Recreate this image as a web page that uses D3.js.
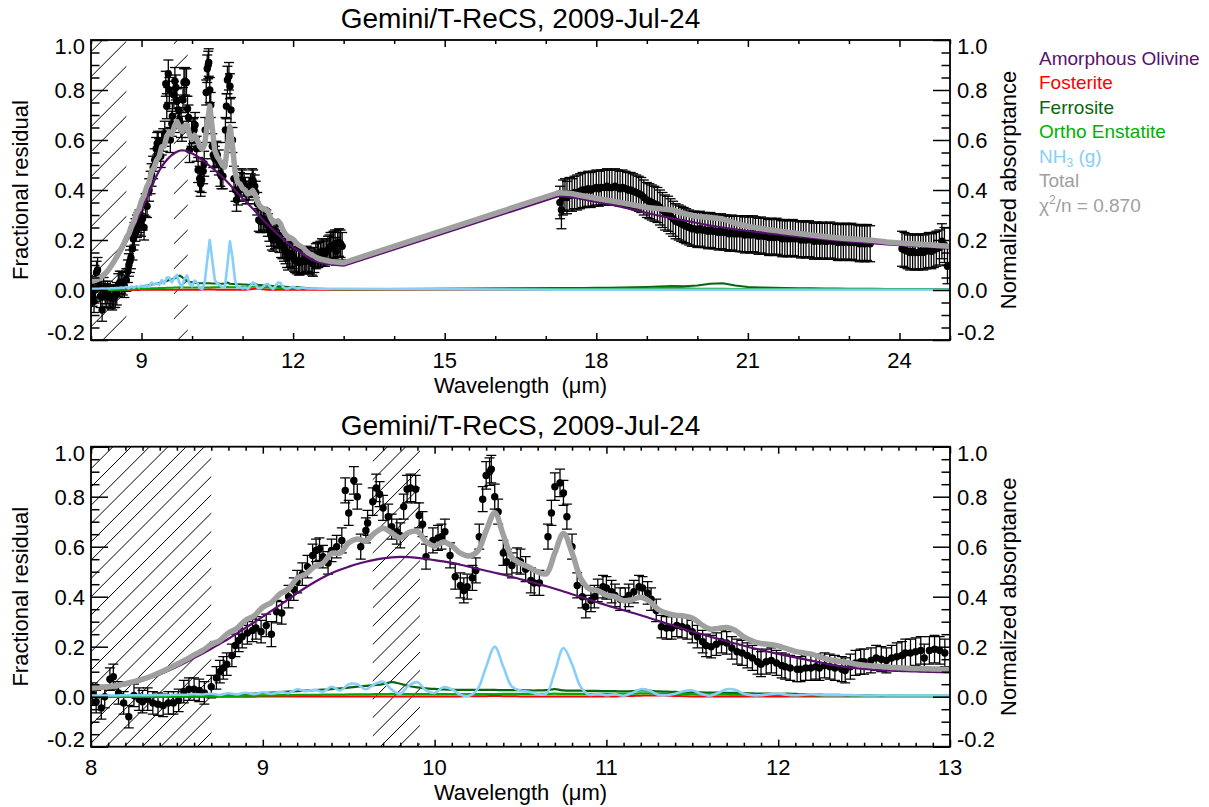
<!DOCTYPE html>
<html>
<head>
<meta charset="utf-8">
<script src="https://cdn.jsdelivr.net/npm/d3@7"></script>
<style>
  body { margin: 0; background: #fff; }
  text { font-family: "Liberation Sans", Arial, Helvetica, sans-serif; white-space: pre; }
</style>
</head>
<body>
<div id="chart"></div>
<script>
// measured spectrum, 8-13 um : [wavelength, fractional residual, error]
const specShort = [
  [8.01, 0.01, 0.045], [8.03, -0.02, 0.045], [8.06, -0.045, 0.045], [8.08, 0.00, 0.045], [8.11, 0.07, 0.045],
  [8.13, 0.08, 0.05], [8.16, 0.015, 0.045], [8.19, -0.025, 0.045], [8.22, -0.08, 0.045], [8.25, 0.005, 0.045],
  [8.28, -0.01, 0.045], [8.30, -0.02, 0.045], [8.33, -0.01, 0.045], [8.36, -0.025, 0.045], [8.39, -0.03, 0.045],
  [8.42, -0.035, 0.045], [8.45, -0.025, 0.045], [8.48, -0.025, 0.045], [8.51, -0.015, 0.045], [8.54, 0.02, 0.045],
  [8.57, 0.03, 0.045], [8.60, 0.03, 0.045], [8.63, 0.025, 0.045], [8.66, 0.015, 0.045], [8.70, 0.04, 0.045],
  [8.73, 0.075, 0.045], [8.75, 0.10, 0.045], [8.77, 0.115, 0.045], [8.79, 0.13, 0.045], [8.82, 0.165, 0.045],
  [8.84, 0.205, 0.045], [8.86, 0.225, 0.045], [8.88, 0.24, 0.045], [8.91, 0.255, 0.045], [8.94, 0.265, 0.045],
  [8.96, 0.275, 0.045], [8.99, 0.26, 0.045], [9.02, 0.285, 0.045], [9.05, 0.25, 0.05], [9.08, 0.34, 0.045],
  [9.11, 0.335, 0.045], [9.15, 0.40, 0.045], [9.18, 0.43, 0.045], [9.20, 0.46, 0.045], [9.23, 0.49, 0.045],
  [9.26, 0.52, 0.045], [9.29, 0.565, 0.045], [9.31, 0.585, 0.045], [9.33, 0.59, 0.045], [9.35, 0.56, 0.045],
  [9.38, 0.535, 0.045], [9.40, 0.585, 0.045], [9.43, 0.60, 0.045], [9.46, 0.625, 0.05], [9.48, 0.825, 0.05],
  [9.50, 0.735, 0.05], [9.53, 0.865, 0.055], [9.55, 0.80, 0.05], [9.57, 0.60, 0.05], [9.60, 0.665, 0.05],
  [9.61, 0.695, 0.05], [9.64, 0.78, 0.055], [9.66, 0.835, 0.055], [9.68, 0.81, 0.05], [9.70, 0.755, 0.05],
  [9.73, 0.72, 0.05], [9.75, 0.68, 0.05], [9.78, 0.66, 0.05], [9.80, 0.645, 0.05], [9.82, 0.76, 0.05],
  [9.84, 0.83, 0.055], [9.86, 0.835, 0.055], [9.89, 0.83, 0.055], [9.91, 0.725, 0.05], [9.93, 0.69, 0.05],
  [9.95, 0.56, 0.05], [9.99, 0.625, 0.05], [10.02, 0.635, 0.05], [10.04, 0.64, 0.05], [10.06, 0.66, 0.05],
  [10.09, 0.565, 0.05], [10.12, 0.48, 0.05], [10.15, 0.445, 0.05], [10.17, 0.425, 0.05], [10.19, 0.44, 0.05],
  [10.22, 0.475, 0.05], [10.24, 0.505, 0.05], [10.26, 0.64, 0.05], [10.28, 0.79, 0.05], [10.30, 0.885, 0.055],
  [10.32, 0.90, 0.055], [10.33, 0.91, 0.055], [10.35, 0.80, 0.05], [10.37, 0.74, 0.05], [10.40, 0.575, 0.05],
  [10.42, 0.54, 0.05], [10.45, 0.525, 0.05], [10.48, 0.545, 0.05], [10.50, 0.54, 0.05], [10.53, 0.51, 0.05],
  [10.56, 0.465, 0.05], [10.58, 0.455, 0.05], [10.61, 0.455, 0.05], [10.66, 0.64, 0.05], [10.68, 0.735, 0.05],
  [10.70, 0.84, 0.055], [10.73, 0.855, 0.055], [10.75, 0.815, 0.05], [10.77, 0.72, 0.05], [10.80, 0.60, 0.05],
  [10.83, 0.445, 0.05], [10.86, 0.40, 0.045], [10.88, 0.36, 0.045], [10.91, 0.385, 0.045], [10.93, 0.40, 0.045],
  [10.95, 0.425, 0.045], [10.98, 0.44, 0.045], [11.00, 0.435, 0.045], [11.03, 0.42, 0.045], [11.05, 0.405, 0.045],
  [11.08, 0.39, 0.045], [11.11, 0.39, 0.045], [11.13, 0.405, 0.045], [11.16, 0.42, 0.045], [11.19, 0.44, 0.045],
  [11.21, 0.435, 0.045], [11.24, 0.415, 0.045], [11.26, 0.39, 0.045], [11.29, 0.345, 0.045], [11.32, 0.28, 0.045],
  [11.35, 0.275, 0.045], [11.38, 0.275, 0.045], [11.41, 0.285, 0.045], [11.44, 0.28, 0.045], [11.47, 0.275, 0.045],
  [11.50, 0.26, 0.045], [11.53, 0.24, 0.045], [11.56, 0.22, 0.045], [11.58, 0.205, 0.045], [11.61, 0.20, 0.045],
  [11.64, 0.21, 0.045], [11.67, 0.22, 0.045], [11.70, 0.215, 0.045], [11.73, 0.195, 0.045], [11.76, 0.18, 0.05],
  [11.79, 0.175, 0.05], [11.82, 0.165, 0.05], [11.85, 0.155, 0.05], [11.88, 0.14, 0.05], [11.90, 0.13, 0.05],
  [11.93, 0.14, 0.05], [11.96, 0.145, 0.05], [11.99, 0.135, 0.05], [12.02, 0.125, 0.05], [12.04, 0.12, 0.05],
  [12.07, 0.115, 0.05], [12.11, 0.11, 0.05], [12.13, 0.11, 0.05], [12.16, 0.115, 0.05], [12.19, 0.115, 0.05],
  [12.22, 0.12, 0.05], [12.24, 0.115, 0.05], [12.27, 0.125, 0.05], [12.30, 0.12, 0.05], [12.33, 0.115, 0.05],
  [12.37, 0.11, 0.05], [12.39, 0.105, 0.05], [12.42, 0.12, 0.05], [12.45, 0.135, 0.05], [12.48, 0.14, 0.05],
  [12.50, 0.14, 0.05], [12.54, 0.145, 0.05], [12.57, 0.155, 0.05], [12.60, 0.15, 0.05], [12.63, 0.145, 0.05],
  [12.66, 0.155, 0.05], [12.69, 0.16, 0.055], [12.72, 0.165, 0.055], [12.74, 0.175, 0.055], [12.77, 0.175, 0.055],
  [12.80, 0.18, 0.055], [12.83, 0.185, 0.055], [12.85, 0.155, 0.055], [12.88, 0.185, 0.055], [12.91, 0.19, 0.055],
  [12.94, 0.185, 0.055], [12.97, 0.175, 0.055]
];

// measured spectrum, 17-23.5 um
const specLong = [
  [17.28, 0.35, 0.065], [17.31, 0.32, 0.075], [17.34, 0.37, 0.07], [17.38, 0.38, 0.065], [17.42, 0.37, 0.065],
  [17.47, 0.385, 0.065], [17.52, 0.38, 0.065], [17.57, 0.39, 0.065], [17.62, 0.39, 0.07], [17.68, 0.395, 0.07],
  [17.73, 0.40, 0.07], [17.78, 0.40, 0.07], [17.84, 0.405, 0.07], [17.89, 0.40, 0.07], [17.94, 0.405, 0.07],
  [18.00, 0.41, 0.07], [18.05, 0.405, 0.07], [18.10, 0.41, 0.07], [18.16, 0.41, 0.07], [18.21, 0.415, 0.07],
  [18.26, 0.41, 0.07], [18.31, 0.41, 0.07], [18.37, 0.415, 0.07], [18.42, 0.41, 0.07], [18.47, 0.405, 0.07],
  [18.52, 0.41, 0.07], [18.58, 0.405, 0.07], [18.63, 0.40, 0.07], [18.68, 0.40, 0.07], [18.73, 0.395, 0.07],
  [18.79, 0.39, 0.07], [18.84, 0.385, 0.07], [18.89, 0.38, 0.07], [18.94, 0.37, 0.07], [19.00, 0.36, 0.07],
  [19.05, 0.355, 0.07], [19.10, 0.35, 0.07], [19.15, 0.345, 0.07], [19.21, 0.34, 0.07], [19.26, 0.33, 0.07],
  [19.31, 0.32, 0.07], [19.36, 0.31, 0.07], [19.42, 0.305, 0.07], [19.47, 0.295, 0.07], [19.52, 0.285, 0.07],
  [19.57, 0.275, 0.07], [19.63, 0.27, 0.07], [19.68, 0.265, 0.07], [19.73, 0.26, 0.07], [19.78, 0.255, 0.07],
  [19.84, 0.25, 0.07], [19.89, 0.245, 0.07], [19.94, 0.245, 0.07], [20.00, 0.24, 0.07], [20.05, 0.245, 0.07],
  [20.10, 0.24, 0.07], [20.15, 0.24, 0.07], [20.21, 0.235, 0.07], [20.26, 0.24, 0.07], [20.31, 0.235, 0.07],
  [20.36, 0.235, 0.07], [20.42, 0.23, 0.07], [20.47, 0.235, 0.07], [20.52, 0.23, 0.07], [20.57, 0.23, 0.07],
  [20.63, 0.225, 0.07], [20.68, 0.23, 0.07], [20.73, 0.225, 0.07], [20.78, 0.225, 0.07], [20.84, 0.225, 0.072],
  [20.89, 0.225, 0.072], [20.94, 0.22, 0.072], [21.00, 0.225, 0.072], [21.05, 0.22, 0.072], [21.10, 0.225, 0.072],
  [21.15, 0.22, 0.072], [21.21, 0.215, 0.072], [21.26, 0.22, 0.072], [21.31, 0.215, 0.072], [21.36, 0.215, 0.072],
  [21.42, 0.21, 0.072], [21.47, 0.215, 0.072], [21.52, 0.21, 0.072], [21.57, 0.215, 0.072], [21.63, 0.21, 0.072],
  [21.68, 0.205, 0.072], [21.73, 0.21, 0.072], [21.78, 0.205, 0.072], [21.84, 0.205, 0.072], [21.89, 0.21, 0.072],
  [21.94, 0.205, 0.072], [22.00, 0.205, 0.072], [22.05, 0.20, 0.072], [22.10, 0.205, 0.072], [22.15, 0.20, 0.072],
  [22.21, 0.205, 0.072], [22.26, 0.20, 0.072], [22.31, 0.195, 0.072], [22.36, 0.20, 0.072], [22.42, 0.195, 0.072],
  [22.47, 0.20, 0.072], [22.52, 0.195, 0.072], [22.57, 0.195, 0.072], [22.63, 0.20, 0.072], [22.68, 0.195, 0.072],
  [22.73, 0.195, 0.072], [22.78, 0.19, 0.072], [22.84, 0.195, 0.072], [22.89, 0.19, 0.072], [22.94, 0.195, 0.072],
  [23.00, 0.19, 0.072], [23.05, 0.195, 0.072], [23.10, 0.19, 0.072], [23.15, 0.19, 0.072], [23.21, 0.185, 0.072],
  [23.26, 0.19, 0.072], [23.31, 0.185, 0.072], [23.36, 0.19, 0.072], [23.42, 0.185, 0.072]
];

// measured spectrum, 24-25 um
const specFar = [
  [24.05, 0.165, 0.07], [24.10, 0.16, 0.07], [24.16, 0.155, 0.07], [24.21, 0.15, 0.07], [24.26, 0.155, 0.07],
  [24.31, 0.15, 0.07], [24.37, 0.15, 0.07], [24.42, 0.155, 0.07], [24.47, 0.15, 0.07], [24.52, 0.155, 0.07],
  [24.58, 0.16, 0.07], [24.63, 0.155, 0.07], [24.68, 0.16, 0.07], [24.73, 0.165, 0.07], [24.79, 0.17, 0.07],
  [24.84, 0.195, 0.07], [24.89, 0.18, 0.07], [24.95, 0.095, 0.07]
];

// model components on a 0.05 um grid from 8.00 to 13.00
const gridShort = d3.range(0, 101).map(i => +(8 + i * 0.05).toFixed(2));
const olivineShort = [
  0.030, 0.032, 0.035, 0.040, 0.046, 0.054, 0.064, 0.076, 0.089, 0.104,
  0.120, 0.137, 0.155, 0.173, 0.192, 0.212, 0.232, 0.254, 0.276, 0.298,
  0.320, 0.343, 0.366, 0.390, 0.414, 0.437, 0.458, 0.477, 0.494, 0.508,
  0.520, 0.531, 0.540, 0.547, 0.553, 0.557, 0.559, 0.558, 0.555, 0.551,
  0.546, 0.541, 0.535, 0.528, 0.520, 0.512, 0.504, 0.496, 0.488, 0.479,
  0.470, 0.461, 0.452, 0.442, 0.432, 0.421, 0.410, 0.399, 0.388, 0.377,
  0.366, 0.356, 0.346, 0.336, 0.326, 0.315, 0.304, 0.293, 0.282, 0.271,
  0.261, 0.251, 0.241, 0.232, 0.222, 0.213, 0.204, 0.195, 0.187, 0.179,
  0.171, 0.164, 0.157, 0.150, 0.143, 0.136, 0.129, 0.123, 0.118, 0.114,
  0.111, 0.108, 0.106, 0.104, 0.103, 0.102, 0.101, 0.100, 0.099, 0.098,
  0.097
];
const fosteriteShort = [
  0, 0, 0, 0, 0, 0, 0, 0, 0, 0,
  0, 0, 0, 0, 0, 0, 0, 0, 0, 0,
  0.001, 0.001, 0.001, 0.001, 0.001, 0.001, 0.001, 0.001, 0.001, 0.001,
  0.001, 0.001, 0.001, 0.001, 0.001, 0.001, 0.001, 0.001, 0.001, 0.001,
  0.001, 0.001, 0.001, 0.001, 0.002, 0.002, 0.002, 0.003, 0.002, 0.002,
  0.001, 0.001, 0.001, 0.001, 0.001, 0.001, 0.001, 0.001, 0.001, 0.001,
  0.001, 0.001, 0.002, 0.003, 0.004, 0.005, 0.005, 0.004, 0.003, 0.002,
  0.001, 0.001, 0.001, 0.001, 0.001, 0.001, 0.001, 0.001, 0.001, 0.001,
  0.001, 0.001, 0.001, 0.001, 0.001, 0.001, 0.001, 0.001, 0.001, 0.001,
  0.001, 0.001, 0.001, 0.001, 0.001, 0.001, 0.001, 0.001, 0.001, 0.001,
  0.001
];
const ferrositeShort = [
  0, 0, 0, 0, 0, 0, 0, 0, 0.001, 0.001,
  0.001, 0.001, 0.001, 0.002, 0.003, 0.004, 0.006, 0.008, 0.010, 0.012,
  0.014, 0.016, 0.018, 0.020, 0.022, 0.024, 0.026, 0.028, 0.030, 0.033,
  0.036, 0.040, 0.043, 0.046, 0.050, 0.058, 0.052, 0.043, 0.037, 0.033,
  0.031, 0.029, 0.028, 0.027, 0.027, 0.027, 0.027, 0.027, 0.026, 0.026,
  0.026, 0.025, 0.025, 0.026, 0.030, 0.025, 0.024, 0.024, 0.023, 0.023,
  0.022, 0.022, 0.021, 0.022, 0.025, 0.024, 0.021, 0.020, 0.019, 0.018,
  0.018, 0.017, 0.016, 0.016, 0.015, 0.015, 0.014, 0.013, 0.012, 0.012,
  0.011, 0.012, 0.011, 0.010, 0.009, 0.008, 0.007, 0.007, 0.006, 0.006,
  0.005, 0.005, 0.004, 0.004, 0.004, 0.003, 0.003, 0.003, 0.003, 0.003,
  0.003
];
const enstatiteShort = [
  0, 0, 0, 0, 0, 0, 0, 0, 0, 0,
  0.001, 0.001, 0.001, 0.001, 0.002, 0.002, 0.003, 0.003, 0.004, 0.004,
  0.005, 0.005, 0.006, 0.006, 0.007, 0.007, 0.007, 0.008, 0.008, 0.008,
  0.009, 0.009, 0.009, 0.010, 0.010, 0.011, 0.011, 0.010, 0.010, 0.010,
  0.010, 0.010, 0.010, 0.010, 0.010, 0.010, 0.010, 0.010, 0.011, 0.011,
  0.011, 0.011, 0.011, 0.011, 0.012, 0.011, 0.011, 0.011, 0.011, 0.011,
  0.011, 0.011, 0.011, 0.012, 0.013, 0.013, 0.012, 0.011, 0.010, 0.010,
  0.010, 0.009, 0.009, 0.009, 0.009, 0.008, 0.008, 0.008, 0.007, 0.007,
  0.007, 0.007, 0.006, 0.006, 0.006, 0.005, 0.005, 0.005, 0.005, 0.004,
  0.004, 0.004, 0.004, 0.004, 0.003, 0.003, 0.003, 0.003, 0.003, 0.003,
  0.003
];
const nh3Short = [
  0.005, 0.005, 0.005, 0.005, 0.006, 0.006, 0.006, 0.006, 0.007, 0.007,
  0.008, 0.008, 0.010, 0.009, 0.012, 0.007, 0.014, 0.009, 0.016, 0.010,
  0.018, 0.012, 0.020, 0.014, 0.030, 0.022, 0.028, 0.020, 0.040, 0.025,
  0.050, 0.050, 0.030, 0.050, 0.060, 0.028, 0.012, 0.045, 0.058, 0.025,
  0.015, 0.038, 0.030, 0.008, 0.004, 0.030, 0.120, 0.200, 0.120, 0.040,
  0.025, 0.020, 0.010, 0.012, 0.100, 0.195, 0.130, 0.040, 0.008, 0.012,
  0.006, 0.010, 0.004, 0.015, 0.030, 0.025, 0.008, 0.006, 0.012, 0.022,
  0.025, 0.012, 0.004, 0.015, 0.030, 0.028, 0.012, 0.006, 0.006, 0.010,
  0.013, 0.008, 0.006, 0.008, 0.010, 0.007, 0.006, 0.006, 0.007, 0.006,
  0.005, 0.005, 0.006, 0.005, 0.005, 0.005, 0.005, 0.005, 0.005, 0.005,
  0.005
];

// model components on a 0.25 um grid from 17.25 to 25.00
const gridLong = d3.range(0, 32).map(i => 17.25 + i * 0.25);
const olivineLong = [0.375, 0.372, 0.362, 0.352, 0.343, 0.332, 0.320, 0.308, 0.297, 0.287, 0.278, 0.268, 0.258, 0.250, 0.243, 0.236,
  0.230, 0.224, 0.218, 0.213, 0.208, 0.203, 0.198, 0.194, 0.190, 0.186, 0.182, 0.179, 0.176, 0.173, 0.170, 0.167];
const fosteriteLong = [0.001, 0.001, 0.001, 0.001, 0.001, 0.001, 0.002, 0.003, 0.005, 0.006, 0.004, 0.002, 0.001, 0.001, 0.001, 0.001,
  0.001, 0.001, 0.001, 0.001, 0.001, 0.001, 0.001, 0.002, 0.003, 0.003, 0.002, 0.001, 0.001, 0.001, 0.001, 0.001];
const ferrositeLong = [0.008, 0.008, 0.008, 0.009, 0.009, 0.010, 0.011, 0.012, 0.014, 0.016, 0.015, 0.018, 0.025, 0.027, 0.018, 0.012,
  0.010, 0.009, 0.008, 0.007, 0.007, 0.006, 0.006, 0.005, 0.005, 0.005, 0.004, 0.004, 0.004, 0.004, 0.003, 0.003];
const enstatiteLong = [0.004, 0.004, 0.004, 0.004, 0.004, 0.005, 0.005, 0.006, 0.008, 0.010, 0.007, 0.005, 0.005, 0.005, 0.004, 0.004,
  0.004, 0.004, 0.004, 0.004, 0.003, 0.003, 0.003, 0.003, 0.003, 0.003, 0.003, 0.003, 0.003, 0.003, 0.003, 0.003];
const nh3Long = [0.001, 0.001, 0.001, 0.001, 0.001, 0.001, 0.001, 0.001, 0.001, 0.001, 0.001, 0.001, 0.001, 0.001, 0.001, 0.001,
  0.001, 0.001, 0.001, 0.001, 0.001, 0.001, 0.001, 0.001, 0.001, 0.001, 0.001, 0.001, 0.001, 0.001, 0.001, 0.001];

// wavelength ranges masked out (telluric)
const maskRanges = [[8.0, 8.70], [9.64, 9.915]];

const legendItems = [
  { label: "Amorphous Olivine", color: "#5a106e" },
  { label: "Fosterite", color: "#ff0000" },
  { label: "Ferrosite", color: "#0a6410" },
  { label: "Ortho Enstatite", color: "#00b000" },
  { label: "NH3 (g)", color: "#87cefa" },
  { label: "Total", color: "#a0a0a0" },
  { label: "chi2", color: "#a0a0a0" }
];
const chi2 = "0.870";
const titleText = "Gemini/T-ReCS, 2009-Jul-24";

// build component series as [wavelength, value] pairs
function pairs(grid, vals) { return grid.map((w, i) => [w, vals[i]]); }
function totalOf(grid, parts) {
  return grid.map((w, i) => [w, d3.sum(parts, p => p[i])]);
}
const compsShort = [olivineShort, fosteriteShort, ferrositeShort, enstatiteShort, nh3Short];
const compsLong = [olivineLong, fosteriteLong, ferrositeLong, enstatiteLong, nh3Long];
const totalShort = totalOf(gridShort, compsShort);
const totalLong = totalOf(gridLong, compsLong);

const W = 1209, H = 807;
const PL = 91, PR = 950, PH = 300;

const svg = d3.select("#chart").append("svg")
  .attr("width", W).attr("height", H)
  .style("background", "#fff");

function drawPanel(cfg) {
  const top = cfg.top, bot = top + PH;
  const x = d3.scaleLinear().domain(cfg.xDomain).range([PL, PR]);
  const y = d3.scaleLinear().domain([-0.2, 1.0]).range([bot, top]);
  const g = svg.append("g");

  g.append("clipPath").attr("id", "clip" + cfg.id)
    .append("rect").attr("x", PL).attr("y", top).attr("width", PR - PL).attr("height", PH);
  const plot = g.append("g").attr("clip-path", "url(#clip" + cfg.id + ")");

  // hatched masks
  maskRanges.forEach((r, j) => {
    const x0 = x(r[0]), x1 = x(r[1]);
    const cid = "hclip" + cfg.id + j;
    g.append("clipPath").attr("id", cid)
      .append("rect").attr("x", x0).attr("y", top).attr("width", x1 - x0).attr("height", PH);
    const hg = plot.append("g").attr("clip-path", "url(#" + cid + ")");
    const kStart = cfg.hatchPhase - Math.ceil((cfg.hatchPhase - (x0 + top)) / cfg.hatch) * cfg.hatch;
    const ks = d3.range(kStart, x1 + bot + cfg.hatch, cfg.hatch);
    hg.selectAll("line").data(ks).join("line")
      .attr("x1", x0 - 2).attr("y1", k => k - x0 + 2)
      .attr("x2", x1 + 2).attr("y2", k => k - x1 - 2)
      .attr("stroke", "#000").attr("stroke-width", 1);
  });

  // data with error bars
  const data = cfg.data;
  const eb = plot.append("g").attr("stroke", "#000").attr("stroke-width", 1.3);
  eb.selectAll("line.v").data(data).join("line").attr("class", "v")
    .attr("x1", d => x(d[0])).attr("x2", d => x(d[0]))
    .attr("y1", d => y(d[1] - d[2])).attr("y2", d => y(d[1] + d[2]));
  eb.selectAll("line.t").data(data).join("line").attr("class", "t")
    .attr("x1", d => x(d[0]) - 5).attr("x2", d => x(d[0]) + 5)
    .attr("y1", d => y(d[1] + d[2])).attr("y2", d => y(d[1] + d[2]));
  eb.selectAll("line.b").data(data).join("line").attr("class", "b")
    .attr("x1", d => x(d[0]) - 5).attr("x2", d => x(d[0]) + 5)
    .attr("y1", d => y(d[1] - d[2])).attr("y2", d => y(d[1] - d[2]));
  plot.append("g").selectAll("circle").data(data).join("circle")
    .attr("cx", d => x(d[0])).attr("cy", d => y(d[1])).attr("r", 3.7).attr("fill", "#000");

  // model curves
  const line = d3.line().x(d => x(d[0])).y(d => y(d[1])).curve(cfg.curve);
  const series = [
    { d: cfg.comps[0], c: "#5a106e", w: 2.2 },
    { d: cfg.comps[1], c: "#ff0000", w: 2 },
    { d: cfg.comps[2], c: "#0a6410", w: 2.2 },
    { d: cfg.comps[3], c: "#00a800", w: 2.2 },
    { d: cfg.comps[4], c: "#87cefa", w: 2.6 },
    { d: cfg.total, c: "#a0a0a0", w: 5.5 }
  ];
  series.forEach(s => {
    plot.append("path").datum(s.d).attr("d", line)
      .attr("fill", "none").attr("stroke", s.c).attr("stroke-width", s.w)
      .attr("stroke-linejoin", "round");
  });

  // axes (ticks point inward)
  const yMajor = [-0.2, 0, 0.2, 0.4, 0.6, 0.8, 1.0];
  const yMinor = d3.range(-4, 21).map(i => i * 0.05).filter(v => Math.abs(Math.round(v / 0.2) * 0.2 - v) > 1e-6);
  const tickStyle = sel => { sel.select(".domain").remove(); sel.selectAll("line").attr("stroke-width", 1.5); };

  [[d3.axisBottom, bot], [d3.axisTop, top]].forEach(([ax, pos]) => {
    g.append("g").attr("transform", "translate(0," + pos + ")")
      .call(ax(x).tickValues(cfg.xMajor).tickSize(-7).tickFormat("")).call(tickStyle);
    g.append("g").attr("transform", "translate(0," + pos + ")")
      .call(ax(x).tickValues(cfg.xMinor).tickSize(-4).tickFormat("")).call(tickStyle);
  });
  [[d3.axisLeft, PL], [d3.axisRight, PR]].forEach(([ax, pos]) => {
    g.append("g").attr("transform", "translate(" + pos + ",0)")
      .call(ax(y).tickValues(yMajor).tickSize(-17).tickFormat("")).call(tickStyle);
    g.append("g").attr("transform", "translate(" + pos + ",0)")
      .call(ax(y).tickValues(yMinor).tickSize(-8.5).tickFormat("")).call(tickStyle);
  });

  g.append("rect").attr("x", PL).attr("y", top).attr("width", PR - PL).attr("height", PH)
    .attr("fill", "none").attr("stroke", "#000").attr("stroke-width", 1.8);

  // tick labels
  const labY = v => Math.min(Math.max(y(v), top + 6), bot - 8);
  g.selectAll("text.yl").data(yMajor).join("text").attr("class", "yl")
    .attr("x", PL - 6).attr("y", labY).attr("dy", "0.36em")
    .attr("text-anchor", "end").attr("font-size", 22).text(v => v.toFixed(1));
  g.selectAll("text.yr").data(yMajor).join("text").attr("class", "yr")
    .attr("x", PR + 7).attr("y", labY).attr("dy", "0.36em")
    .attr("text-anchor", "start").attr("font-size", 22).text(v => v.toFixed(1));
  g.selectAll("text.xl").data(cfg.xMajor).join("text").attr("class", "xl")
    .attr("x", d => x(d)).attr("y", bot + 28)
    .attr("text-anchor", "middle").attr("font-size", 22).text(d => d);

  // titles
  g.append("text").attr("x", (PL + PR) / 2).attr("y", top - 12)
    .attr("text-anchor", "middle").attr("font-size", 28).text(titleText);
  g.append("text").attr("x", (PL + PR) / 2).attr("y", bot + 53)
    .attr("text-anchor", "middle").attr("font-size", 22).text("Wavelength\u00a0 (\u03bcm)");
  g.append("text").attr("transform", "translate(28," + (top + PH / 2) + ") rotate(-90)")
    .attr("text-anchor", "middle").attr("font-size", 22).text("Fractional residual");
  g.append("text").attr("transform", "translate(1016," + (top + PH / 2) + ") rotate(-90)")
    .attr("text-anchor", "middle").attr("font-size", 22).text("Normalized absorptance");
}

// top panel: full range
drawPanel({
  id: "a", top: 40, xDomain: [8, 25],
  xMajor: [9, 12, 15, 18, 21, 24],
  xMinor: [8, 10, 11, 13, 14, 16, 17, 19, 20, 22, 23, 25],
  data: specShort.concat(specLong, specFar),
  comps: compsShort.map((c, i) => pairs(gridShort, c).concat(pairs(gridLong, compsLong[i]))),
  total: totalShort.concat(totalLong),
  curve: d3.curveLinear,
  hatch: 25, hatchPhase: 142.7
});

// bottom panel: 8-13 um zoom
drawPanel({
  id: "b", top: 446.7, xDomain: [8, 13],
  xMajor: [8, 9, 10, 11, 12, 13],
  xMinor: d3.range(0, 51).map(i => 8 + i * 0.1).filter(v => Math.abs(v - Math.round(v)) > 1e-6),
  data: specShort,
  comps: compsShort.map(c => pairs(gridShort, c)),
  total: totalShort,
  curve: d3.curveCatmullRom.alpha(0.5),
  hatch: 18.3, hatchPhase: 559.7
});

// legend
const lg = svg.append("g").attr("font-size", 19);
legendItems.forEach((it, i) => {
  const t = lg.append("text").attr("x", 1039).attr("y", 64.5 + i * 24.5).attr("fill", it.color);
  if (it.label === "NH3 (g)") {
    t.append("tspan").text("NH");
    t.append("tspan").attr("dy", 4).attr("font-size", 12).text("3");
    t.append("tspan").attr("dy", -4).text(" (g)");
  } else if (it.label === "chi2") {
    t.append("tspan").text("\u03c7");
    t.append("tspan").attr("dy", -8).attr("font-size", 12).text("2");
    t.append("tspan").attr("dy", 8).text("/n = " + chi2);
  } else {
    t.text(it.label);
  }
});
</script>
</body>
</html>
